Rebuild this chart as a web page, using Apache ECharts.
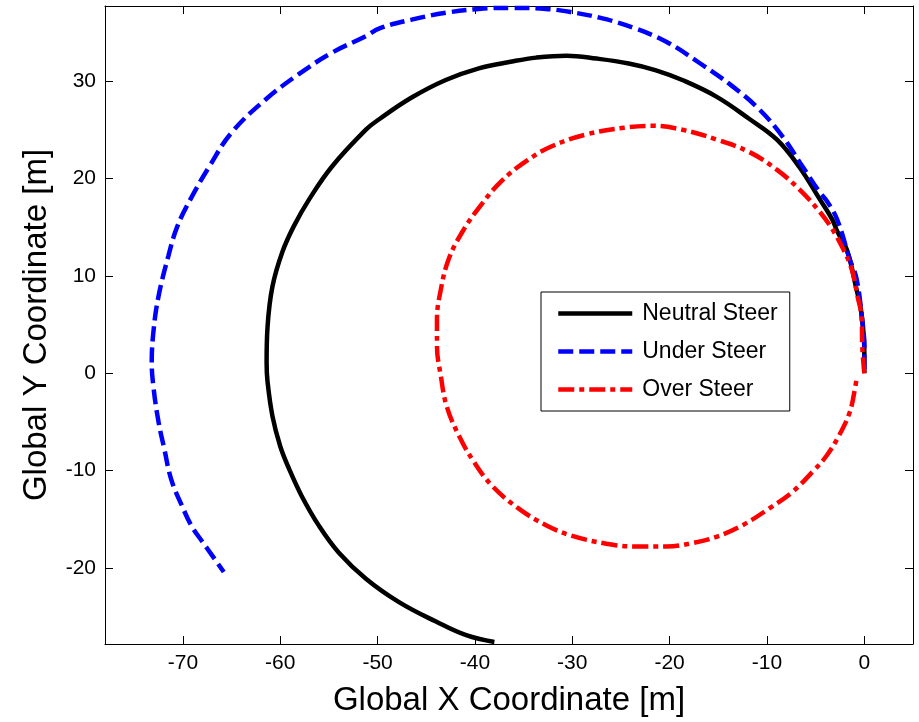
<!DOCTYPE html>
<html>
<head>
<meta charset="utf-8">
<title>Vehicle trajectories</title>
<script src="https://cdn.jsdelivr.net/npm/echarts@6/dist/echarts.min.js"></script>
<style>
  html, body { margin: 0; padding: 0; background: #fff; }
  #chart { width: 919px; height: 722px; }
</style>
</head>
<body>
<div id="chart"></div>
<script>
// Trajectory samples [x, y] in metres
const seriesNames = ['Neutral Steer', 'Under Steer', 'Over Steer'];

const neutralSteer = [
  [0, 0], [0, 2.2], [-0.3, 6.2], [-0.8, 8.6], [-1.8, 12.7], [-2.8, 14.6], [-3.3, 15.8],
  [-4.6, 17.9], [-6.7, 21.2], [-9.0, 24.0], [-11.8, 26.1], [-15.2, 28.4], [-18.7, 30.1],
  [-21.4, 31.1], [-24.2, 31.8], [-27.5, 32.3], [-30.6, 32.6], [-33.7, 32.4], [-36.2, 32.0],
  [-39.6, 31.3], [-43.0, 30.1], [-46.5, 28.3], [-49.8, 26.1], [-51.2, 25.0], [-54.7, 21.2],
  [-57.0, 17.9], [-58.6, 15.1], [-59.8, 12.4], [-60.8, 8.9], [-61.3, 4.8], [-61.4, 1.1],
  [-61.3, -0.9], [-60.8, -4.4], [-60.0, -7.5], [-59.1, -9.8], [-57.8, -12.6], [-56.0, -15.7],
  [-54.0, -18.4], [-51.2, -21.1], [-47.8, -23.5], [-44.0, -25.5], [-40.9, -26.9], [-38.0, -27.6]
];

const underSteer = [
  [0, 0.4], [0, 2.8], [-0.2, 5.3], [-0.8, 9.7], [-1.5, 11.7], [-2.8, 15.8], [-3.8, 17.6],
  [-4.6, 18.6], [-6.4, 21.3], [-8.4, 24.3], [-10.8, 27.1], [-13.6, 29.5], [-17.0, 31.9],
  [-20.3, 34.0], [-23.8, 35.5], [-27.2, 36.5], [-30.3, 37.1], [-32.7, 37.4], [-36.2, 37.5],
  [-39.6, 37.4], [-43.0, 37.0], [-46.5, 36.3], [-49.8, 35.4], [-51.2, 34.6], [-54.7, 32.9],
  [-58.1, 30.7], [-61.5, 28.1], [-65.0, 24.7], [-67.3, 21.2], [-69.2, 17.9], [-70.6, 15.0],
  [-71.5, 12.0], [-72.5, 7.9], [-73.0, 4.5], [-73.2, 1.1], [-73.0, -1.6], [-72.5, -5.0],
  [-71.9, -7.8], [-71.2, -10.9], [-70.1, -13.6], [-69.1, -15.7], [-68.0, -17.3],
  [-67.0, -18.7], [-65.8, -20.4]
];

const overSteer = [
  [0, 0], [-0.2, 2.5], [-0.3, 5.9], [-0.7, 7.9], [-1.3, 10.7], [-2.3, 13.0], [-3.3, 14.8],
  [-4.6, 16.6], [-6.7, 18.9], [-9.0, 20.9], [-11.8, 22.7], [-15.2, 24.0], [-18.7, 25.0],
  [-21.8, 25.4], [-24.7, 25.2], [-28.6, 24.5], [-32.1, 23.3], [-34.7, 21.8], [-37.3, 19.7],
  [-39.5, 17.1], [-41.3, 14.5], [-42.7, 11.7], [-43.5, 8.6], [-43.9, 5.5], [-43.9, 2.8],
  [-43.5, -0.3], [-42.9, -3.4], [-41.6, -6.5], [-40.1, -9.1], [-38.2, -11.6], [-35.5, -13.9],
  [-32.7, -15.6], [-30.0, -16.7], [-26.5, -17.5], [-23.4, -17.8], [-20.3, -17.8],
  [-18.0, -17.5], [-15.2, -16.8], [-12.5, -15.6], [-9.8, -13.9], [-7.4, -12.2], [-5.3, -10.1],
  [-3.9, -8.5], [-2.6, -6.4], [-1.5, -4.0], [-1.0, -1.8], [-0.8, -0.6]
];

// Tick positions
const xTicks = [-70, -60, -50, -40, -30, -20, -10, 0];
const yTicks = [-20, -10, 0, 10, 20, 30];

const xRange = [-78, 5];
const yRange = [-27.8, 37.7];

const FONT = 'Liberation Sans, Arial, Helvetica, sans-serif';
const LINE_W = 4.5;

function axisCommon(ticks, showLabels) {
  return {
    type: 'value',
    axisLine: { show: true, onZero: false, lineStyle: { color: '#000', width: 1 } },
    axisTick: {
      show: true, inside: true, length: 8,
      customValues: ticks,
      lineStyle: { color: '#000', width: 1 }
    },
    axisLabel: {
      show: showLabels,
      customValues: ticks,
      color: '#000',
      fontFamily: FONT,
      fontSize: 21,
      margin: 9
    },
    splitLine: { show: false }
  };
}

const chart = echarts.init(document.getElementById('chart'), null, { renderer: 'canvas' });

chart.setOption({
  animation: false,
  backgroundColor: '#fff',
  grid: { left: 105, right: 6, top: 6, bottom: 77, containLabel: false },
  xAxis: [
    Object.assign(axisCommon(xTicks, true), {
      position: 'bottom', min: xRange[0], max: xRange[1],
      name: 'Global X Coordinate [m]', nameLocation: 'middle', nameGap: 40,
      nameTextStyle: { color: '#000', fontFamily: FONT, fontSize: 33 }
    }),
    Object.assign(axisCommon(xTicks, false), {
      position: 'top', min: xRange[0], max: xRange[1]
    })
  ],
  yAxis: [
    Object.assign(axisCommon(yTicks, true), {
      position: 'left', min: yRange[0], max: yRange[1],
      name: 'Global Y Coordinate [m]', nameLocation: 'middle', nameGap: 52, nameRotate: 90,
      nameTextStyle: { color: '#000', fontFamily: FONT, fontSize: 33 }
    }),
    Object.assign(axisCommon(yTicks, false), {
      position: 'right', min: yRange[0], max: yRange[1]
    })
  ],
  legend: {
    orient: 'vertical',
    left: 541, top: 292,
    backgroundColor: '#fff',
    borderColor: '#000', borderWidth: 1,
    padding: [10, 12, 10, 15],
    itemWidth: 74, itemHeight: 20, itemGap: 15,
    itemStyle: { opacity: 0 },
    lineStyle: { width: LINE_W },
    textStyle: { color: '#000', fontFamily: FONT, fontSize: 23, padding: [0, 0, 0, 5] },
    data: seriesNames
  },
  series: [
    {
      name: seriesNames[0], type: 'line', data: neutralSteer,
      symbol: 'none', smooth: 0.4, z: 2,
      lineStyle: { color: '#000', width: LINE_W, type: 'solid' },
      itemStyle: { color: '#000' }
    },
    {
      name: seriesNames[1], type: 'line', data: underSteer,
      symbol: 'none', smooth: 0.4, z: 3,
      lineStyle: { color: '#0000ff', width: LINE_W, type: [15, 6] },
      itemStyle: { color: '#0000ff' }
    },
    {
      name: seriesNames[2], type: 'line', data: overSteer,
      symbol: 'none', smooth: 0.4, z: 4,
      lineStyle: { color: '#ff0000', width: LINE_W, type: [16, 5, 5, 5] },
      itemStyle: { color: '#ff0000' }
    }
  ]
});
</script>
</body>
</html>
